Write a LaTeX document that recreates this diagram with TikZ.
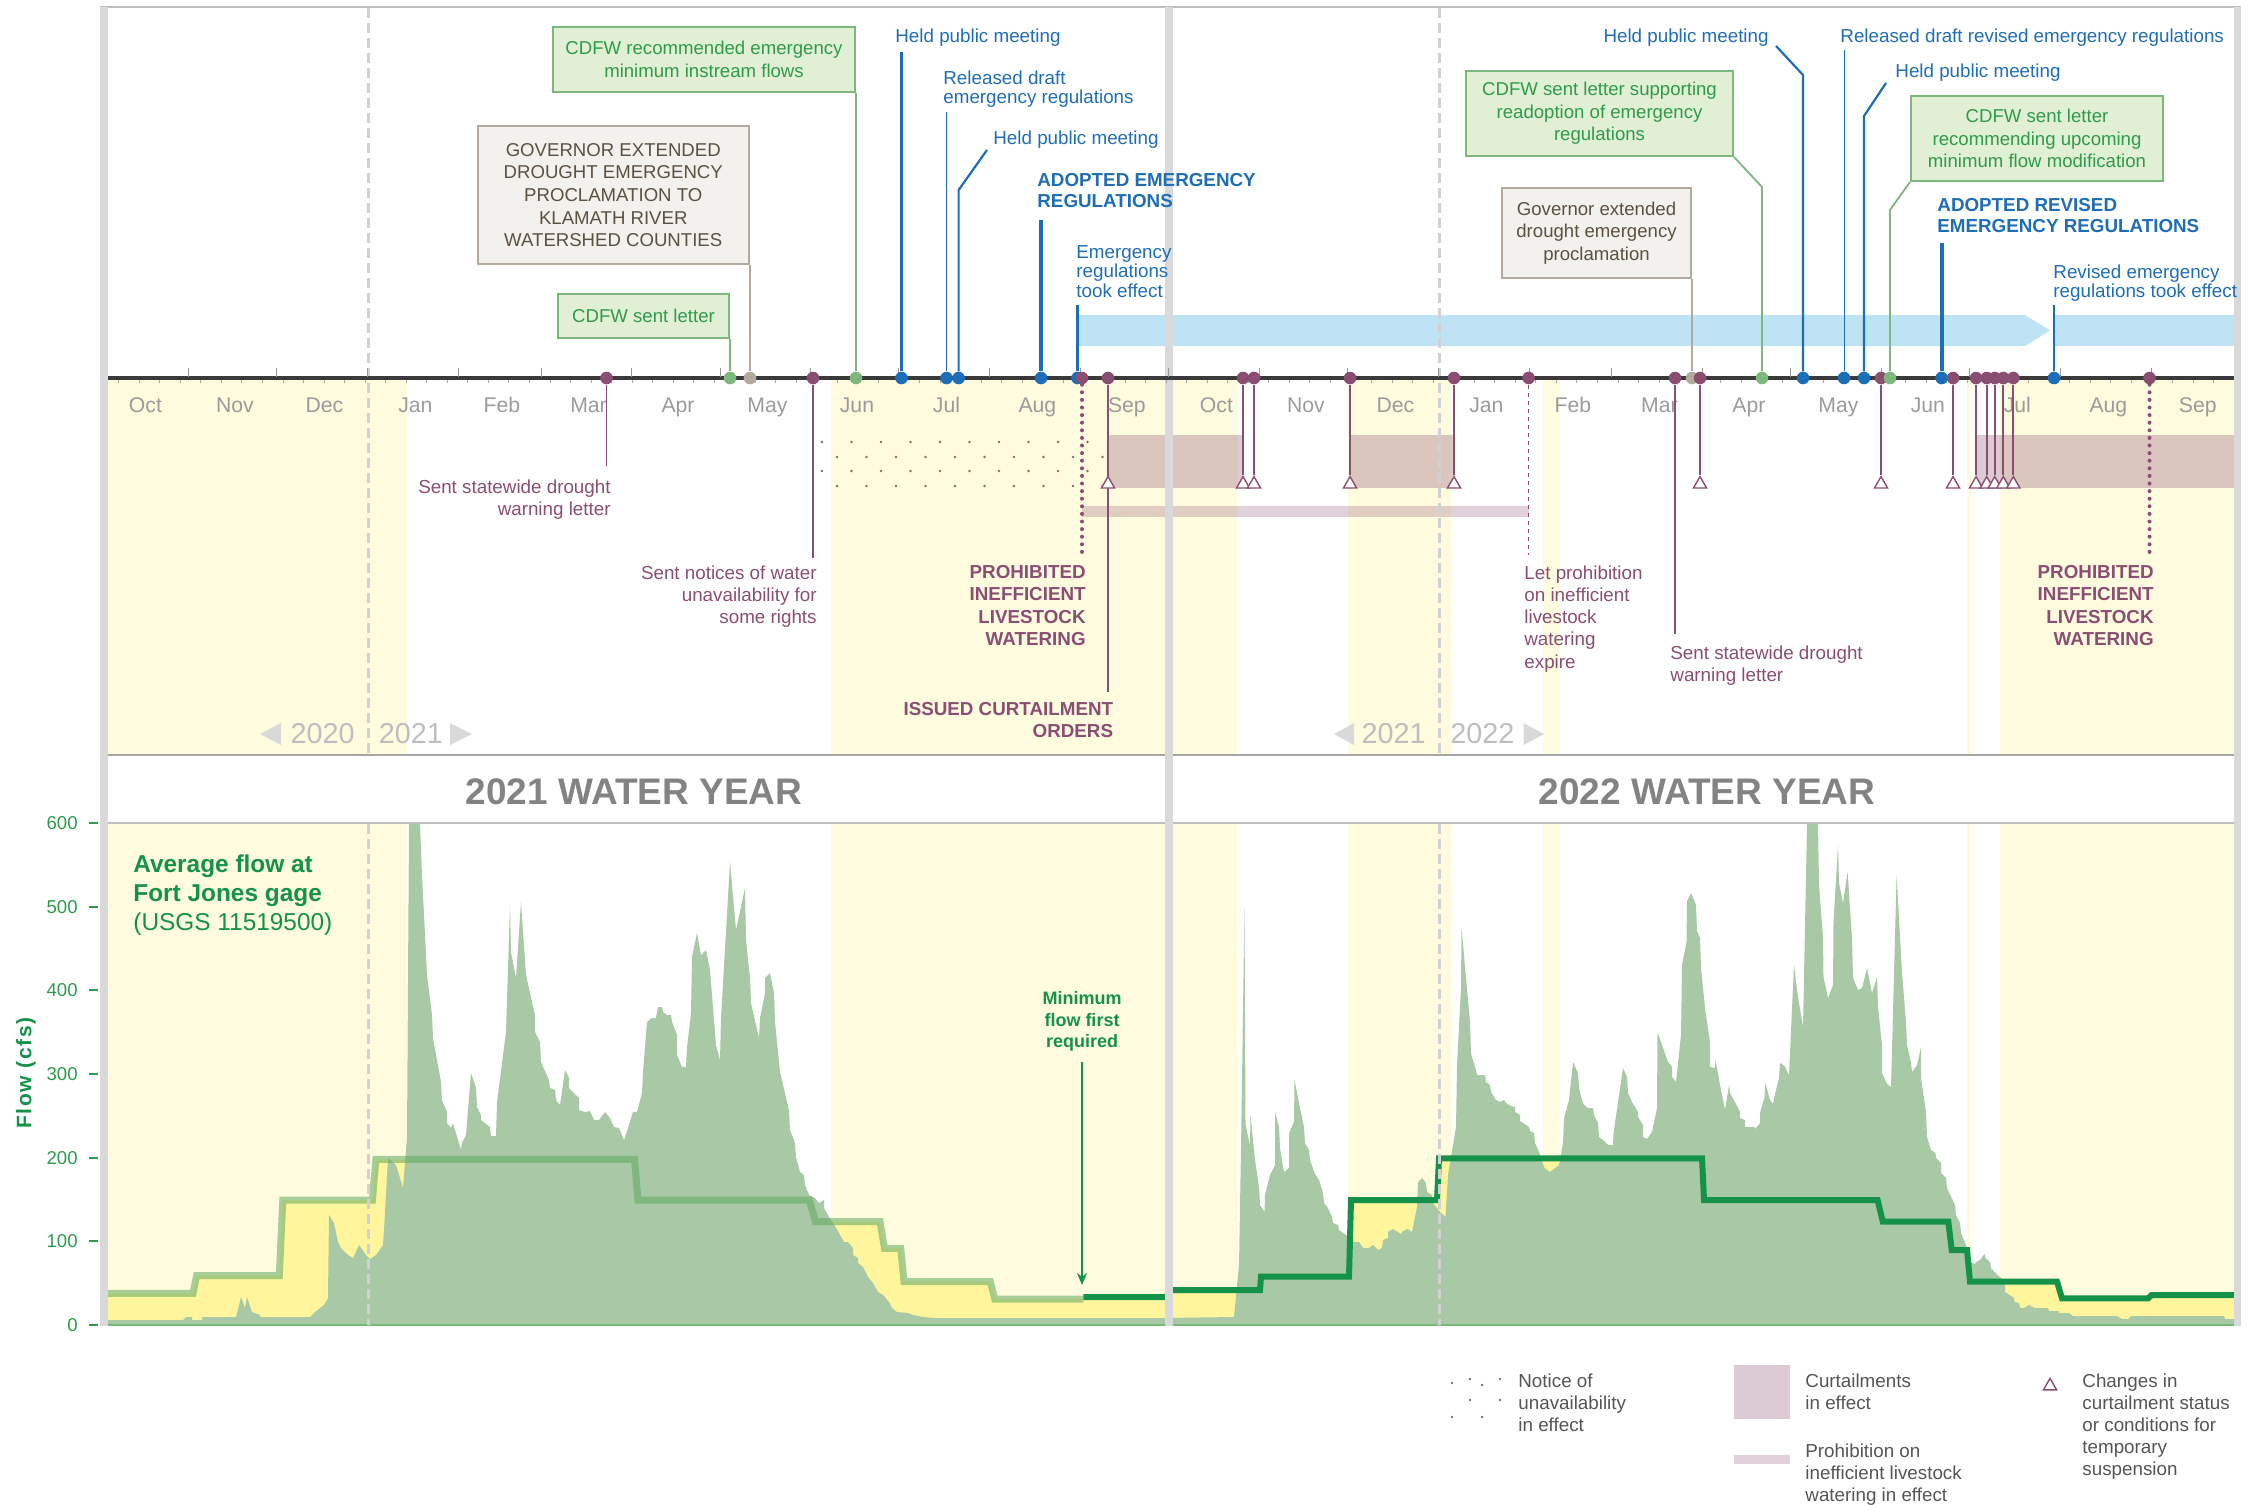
\documentclass[tikz,border=0pt]{standalone}
\usepackage{fontspec}
\setmainfont{Liberation Sans}
\usetikzlibrary{positioning, arrows.meta, calc, shapes.geometric}

\definecolor{bluec}{HTML}{1A6FB8}
\definecolor{bluet}{HTML}{1F6EB5}
\definecolor{purp}{HTML}{8A4E73}
\definecolor{gline}{HTML}{7DB77B}
\definecolor{gfill}{HTML}{E1EFD5}
\definecolor{gtext}{HTML}{2E9B4B}
\definecolor{nline}{HTML}{B3AA9D}
\definecolor{nfill}{HTML}{F3F1EE}
\definecolor{ntext}{HTML}{5B5141}
\definecolor{paleyel}{HTML}{FFFBDF}
\definecolor{brightyel}{HTML}{FFF59D}
\definecolor{flowgr}{HTML}{A9C8A5}
\definecolor{minlight}{HTML}{5FAA5F}
\definecolor{mingreen}{HTML}{14924A}
\definecolor{skyband}{HTML}{BDE3F5}
\definecolor{axisc}{HTML}{3A3A3A}
\definecolor{framec}{HTML}{D9D9D9}
\definecolor{monthc}{HTML}{9B9B9B}
\definecolor{yearc}{HTML}{BEBEBE}
\definecolor{titlec}{HTML}{838383}
\definecolor{legc}{HTML}{555555}
\definecolor{dotc}{HTML}{7A7070}

\newcommand{\lblfnt}{\fontsize{9.4}{9.8}\selectfont}
\newcommand{\purfnt}{\fontsize{9.4}{11.15}\selectfont}
\newcommand{\boxfnt}{\fontsize{9.3}{11.3}\selectfont}

\begin{document}
\begin{tikzpicture}[x=0.5pt, y=-0.5pt, >=Stealth,
    every node/.style={inner sep=0pt},
    bdot/.style={circle, fill=bluec, minimum size=6.3pt},
    pdot/.style={circle, fill=purp, minimum size=6.3pt},
    gdot/.style={circle, fill=gline, minimum size=6.3pt},
    ndot/.style={circle, fill=nline, minimum size=6.3pt},
    bstem/.style={bluec, line width=1.1pt},
    bthin/.style={bluec, line width=0.5pt},
    bbold/.style={bluec, line width=2.1pt},
    pstem/.style={purp, line width=0.9pt},
    pthin/.style={purp, line width=0.55pt},
    pdotted/.style={purp, line width=2pt, line cap=round, dash pattern=on 0pt off 3.8pt},
    pdashed/.style={purp, line width=0.65pt, dash pattern=on 2pt off 2pt},
    gstem/.style={gline, line width=0.9pt},
    nstem/.style={nline, line width=0.9pt},
    chg/.style={regular polygon, regular polygon sides=3, draw=purp, fill=white, line width=0.7pt, minimum size=7.6pt},
    btxt/.style={text=bluet, font=\lblfnt, align=left},
    bbtxt/.style={text=bluet, font=\fontsize{9.4}{10.5}\selectfont\bfseries, align=left},
    ptxt/.style={text=purp, font=\purfnt},
    pbtxt/.style={text=purp, font=\purfnt\bfseries},
    gbox/.style={draw=gline, fill=gfill, line width=1pt, text=gtext, font=\boxfnt, align=center},
    nbox/.style={draw=nline, fill=nfill, line width=1pt, text=ntext, font=\boxfnt, align=center},
    monthlbl/.style={text=monthc, font=\fontsize{10.6}{12}\selectfont},
    yrlbl/.style={text=yearc, font=\fontsize{14.4}{16}\selectfont},
    titlelbl/.style={text=titlec, font=\fontsize{18.5}{20}\selectfont\bfseries},
    ylbl/.style={text=gtext, font=\fontsize{9.3}{10}\selectfont},
    legtxt/.style={text=legc, font=\fontsize{9.4}{11.1}\selectfont, align=left},
    curtail/.style={fill=purp, fill opacity=0.3},
    prohib/.style={fill=purp, fill opacity=0.26},
    noticedot/.style={fill=dotc},
    jan/.style={draw=black!18, line width=1.5pt, dash pattern=on 5pt off 2.5pt},
    mtick/.style={draw=black!40, line width=0.5pt},
    wtick/.style={draw=black!35, line width=0.3pt},
    minold/.style={draw=minlight, draw opacity=0.55, line width=3.5pt},
    minnew/.style={draw=mingreen, line width=3pt},
    minarrow/.style={draw=mingreen, line width=0.75pt, -{Stealth[length=6pt, width=5pt]}, shorten <=5pt}]
\useasboundingbox (0,0) rectangle (2262,1504);

\foreach \a/\b in {108/407, 831/1238, 1348/1451, 1543/1560, 1967/1971, 2000/2234}{
  \fill[paleyel] (\a,380) rectangle (\b,754);
  \fill[paleyel] (\a,824) rectangle (\b,1325);
}
\fill[skyband] (1077.5,315) -- (2025,315) -- (2050,330.5) -- (2025,346) -- (1077.5,346) -- cycle;
\fill[skyband] (2054,315) rectangle (2234,346);
\foreach \y/\o in {442/0, 457/15, 471/0, 486/15}
  \foreach \k in {0,...,9}
    \fill[noticedot] ({822+\o+29.5*\k},\y) circle (0.65pt);
\foreach \a/\b in {1108/1243, 1350/1454, 1976/2234}
  \fill[curtail] (\a,435) rectangle (\b,488);
\fill[prohib] (1082,506) rectangle (1528.6,517);

\fill[brightyel] (108,1325) -- (108,1293.3) -- (193,1293.3) -- (196.6,1275.7) -- (279.3,1275.7) -- (282.8,1200) -- (372.4,1200) -- (375.9,1159.3) -- (634.5,1159.3) -- (638,1200) -- (809.3,1200) -- (815.5,1221.7) -- (880,1221.7) -- (884.5,1248.3) -- (900.7,1248.3) -- (904,1281.7) -- (990.3,1281.7) -- (994.8,1299) -- (1083.4,1299)
  -- (1083.4,1297) -- (1166,1297) -- (1171,1290) -- (1260,1290) -- (1261,1276.7) -- (1349,1276.7) -- (1351,1200) -- (1437,1200) -- (1439,1158.3) -- (1702,1158.3) -- (1704,1200) -- (1877.6,1200) -- (1882.8,1221.7) -- (1948.3,1221.7) -- (1951.7,1250) -- (1967,1250) -- (1970,1281.7) -- (2057,1281.7) -- (2062,1298.3) -- (2148,1298.3) -- (2151.7,1295) -- (2234,1295) -- (2234,1325) -- cycle;

\fill[flowgr] (108,1325) -- (108,1320) -- (183,1320) -- (186,1317) -- (192,1317) -- (192,1320) -- (202,1320) -- (202,1317) -- (236,1317) -- (241,1297) -- (245,1308) -- (247,1297) -- (252,1312) -- (260,1315) -- (260,1317) -- (310,1317) -- (315,1312) -- (324,1305) -- (328,1298) -- (329,1215) -- (334,1223) -- (338,1242) -- (341,1248) -- (348,1255) -- (353,1258) -- (359,1245) -- (366,1255) -- (370,1259) -- (376,1255) -- (383,1245) -- (384,1230) -- (388,1158) -- (396,1165) -- (403,1188) -- (407,1138) -- (409,824) -- (420,824) -- (422,875) -- (427,975) -- (432,1015) -- (433,1038) -- (441,1082) -- (442,1100) -- (447,1112) -- (447,1123) -- (451,1128) -- (453,1123) -- (461,1150) -- (462,1143) -- (466,1135) -- (471,1073) -- (476,1088) -- (477,1107) -- (481,1115) -- (481,1120) -- (490,1127) -- (491,1136) -- (496,1136) -- (497,1102) -- (506,1032) -- (510,905) -- (511,952) -- (516,978) -- (521,902) -- (526,975) -- (535,1015) -- (535,1032) -- (540,1042) -- (541,1062) -- (549,1080) -- (550,1088) -- (555,1090) -- (556,1100) -- (560,1105) -- (565,1070) -- (569,1078) -- (569,1088) -- (579,1098) -- (579,1110) -- (585,1112) -- (590,1111) -- (594,1120) -- (599,1120) -- (605,1112) -- (610,1118) -- (614,1127) -- (619,1128) -- (624,1140) -- (629,1125) -- (633,1112) -- (637,1112)
  -- (642,1093) -- (643,1072) -- (647,1022) -- (652,1018) -- (656,1018) -- (658,1007) -- (662,1007) -- (663,1012) -- (667,1015) -- (671,1015) -- (672,1022) -- (677,1035) -- (677,1055) -- (682,1067) -- (686,1067) -- (687,1048) -- (691,1013) -- (692,957) -- (697,933) -- (701,955) -- (706,950) -- (710,970) -- (716,1045) -- (720,1060) -- (721,1018) -- (730,862) -- (736,930) -- (745,888) -- (746,940) -- (750,978) -- (751,1003) -- (759,1038) -- (760,1018) -- (765,993) -- (765,978) -- (770,973) -- (774,993) -- (775,1022) -- (780,1072) -- (789,1110) -- (790,1130) -- (795,1143) -- (796,1157) -- (800,1172) -- (804,1175) -- (805,1185) -- (809,1195) -- (815,1198) -- (819,1203) -- (824,1200) -- (824,1208) -- (829,1217) -- (833,1223) -- (839,1233) -- (844,1242) -- (848,1242) -- (853,1248) -- (853,1255) -- (858,1258) -- (858,1263) -- (863,1267) -- (868,1277) -- (873,1283) -- (878,1292) -- (883,1295) -- (889,1302) -- (892,1308) -- (897,1312) -- (908,1313) -- (913,1315) -- (923,1317) -- (933,1318) -- (1165,1318)
  -- (1234,1317) -- (1239,1265) -- (1241,1148) -- (1244.5,908) -- (1245.5,1125) -- (1250,1145) -- (1250.5,1115) -- (1255,1160) -- (1259,1187) -- (1260,1205) -- (1264.5,1212) -- (1265,1195) -- (1270,1175) -- (1275,1165) -- (1275,1112) -- (1279,1127) -- (1280,1148) -- (1284,1172) -- (1289,1168) -- (1289,1133) -- (1294,1122) -- (1294.5,1080) -- (1300,1108) -- (1304,1127) -- (1305,1143) -- (1309,1150) -- (1310,1160) -- (1314.5,1173) -- (1319,1180) -- (1323,1193) -- (1324,1203) -- (1328,1208) -- (1332,1217) -- (1333,1223) -- (1338,1225) -- (1339,1230) -- (1346,1235) -- (1353,1242) -- (1359,1242) -- (1363,1248) -- (1369,1248) -- (1373,1245) -- (1378,1250) -- (1382,1248) -- (1383,1240) -- (1388,1238) -- (1388,1232) -- (1393,1229) -- (1401,1234) -- (1403,1231) -- (1408,1229) -- (1412,1232) -- (1417,1207) -- (1418,1182) -- (1422,1178) -- (1426,1183) -- (1427,1192) -- (1432,1195) -- (1432,1202) -- (1441,1213) -- (1445.5,1217) -- (1448,1175) -- (1456,1127) -- (1457,1065) -- (1461,988) -- (1461.5,928) -- (1470,1022) -- (1471,1054) -- (1475.5,1068) -- (1477,1075) -- (1485,1075) -- (1486,1082) -- (1490,1085) -- (1491,1092) -- (1496,1100) -- (1500,1102) -- (1504,1100) -- (1506,1103) -- (1511,1106) -- (1515,1107) -- (1515,1112) -- (1520,1115) -- (1520,1121) -- (1529,1127) -- (1530,1131) -- (1534,1133) -- (1535,1143) -- (1539,1152) -- (1544.5,1168) -- (1550,1172) -- (1559,1165) -- (1563,1143) -- (1564,1118) -- (1569,1100) -- (1573,1062) -- (1578,1073) -- (1579,1088) -- (1583,1104) -- (1588,1108) -- (1593,1108) -- (1594,1115) -- (1598,1123) -- (1599,1137) -- (1603,1140) -- (1608,1145) -- (1613,1145) -- (1613.5,1133) -- (1623,1068) -- (1627,1077) -- (1628,1093) -- (1632,1102) -- (1638,1112) -- (1638,1117) -- (1643,1125) -- (1643,1137) -- (1647,1139) -- (1652,1132) -- (1657,1108) -- (1657.5,1032) -- (1662,1045) -- (1668,1062) -- (1672,1067) -- (1672,1077) -- (1676,1082) -- (1681,1035) -- (1682,965) -- (1686.5,942) -- (1687,901) -- (1691,893) -- (1696,905) -- (1697,931) -- (1700,938)
  -- (1701,968) -- (1705,1008) -- (1710,1042) -- (1710,1067) -- (1715,1068) -- (1715.5,1060) -- (1720,1085) -- (1725,1110) -- (1729,1085) -- (1730,1093) -- (1735.5,1103) -- (1740,1112) -- (1740,1118) -- (1745,1120) -- (1745,1127) -- (1754.5,1127) -- (1755,1129) -- (1760,1123) -- (1760,1113) -- (1764.5,1097) -- (1765,1082) -- (1770,1100) -- (1773,1104) -- (1774,1098) -- (1779,1078) -- (1780,1063) -- (1784.5,1066) -- (1789,1075) -- (1794,965) -- (1798,997) -- (1803,1027) -- (1807,824) -- (1818,824) -- (1819,885) -- (1823,938) -- (1823.5,977) -- (1828,998) -- (1833,985) -- (1833.5,922) -- (1838,845) -- (1839,883) -- (1843,903) -- (1847.6,872) -- (1852,938) -- (1853,978) -- (1858,990) -- (1862,988) -- (1867,968) -- (1872,993) -- (1877,977) -- (1878,1007) -- (1882,1045) -- (1882,1073) -- (1887,1084) -- (1891,1087) -- (1896.6,875) -- (1902,973) -- (1906,1022) -- (1907,1045) -- (1911,1063) -- (1912,1072) -- (1917,1065) -- (1921,1047) -- (1921,1078) -- (1926,1112) -- (1927,1137) -- (1931,1150) -- (1935.5,1153) -- (1936,1158) -- (1941,1163) -- (1941,1173) -- (1946,1178) -- (1947,1188) -- (1955,1205) -- (1956,1215) -- (1960,1223) -- (1961,1233) -- (1966,1245) -- (1971,1262) -- (1975,1264) -- (1976,1262) -- (1980,1260) -- (1984.5,1254) -- (1985.5,1258) -- (1990,1262) -- (1991,1268) -- (1995.5,1273) -- (2000,1277) -- (2005,1282) -- (2005,1292) -- (2014,1298) -- (2014.5,1302) -- (2019,1303) -- (2020,1308) -- (2024,1308) -- (2029,1305) -- (2034.5,1308) -- (2048,1308) -- (2049,1311) -- (2059,1311) -- (2059,1313) -- (2069,1313) -- (2073,1316) -- (2117,1316) -- (2122,1319) -- (2128,1319) -- (2131,1316) -- (2224,1316) -- (2225,1319) -- (2234,1319) -- (2234,1325) -- cycle;

\draw[minold] (108,1293.3) -- (193,1293.3) -- (196.6,1275.7) -- (279.3,1275.7) -- (282.8,1200) -- (372.4,1200) -- (375.9,1159.3) -- (634.5,1159.3) -- (638,1200) -- (809.3,1200) -- (815.5,1221.7) -- (880,1221.7) -- (884.5,1248.3) -- (900.7,1248.3) -- (904,1281.7) -- (990.3,1281.7) -- (994.8,1299) -- (1083.4,1299);
\draw[minnew] (1083.4,1297) -- (1166,1297) -- (1171,1290) -- (1260,1290) -- (1261,1276.7) -- (1349,1276.7) -- (1351,1200) -- (1437,1200) -- (1439,1158.3) -- (1702,1158.3) -- (1704,1200) -- (1877.6,1200) -- (1882.8,1221.7) -- (1948.3,1221.7) -- (1951.7,1250) -- (1967,1250) -- (1970,1281.7) -- (2057,1281.7) -- (2062,1298.3) -- (2148,1298.3) -- (2151.7,1295) -- (2234,1295);
\draw[draw=minlight!85, line width=1pt] (108,1325) -- (2234,1325);

\foreach \x in {368,1439}{
  \draw[jan] (\x,8) -- (\x,754);
  \draw[jan] (\x,824) -- (\x,1325);
}
\draw[black!25, line width=1pt] (100,7) -- (2241,7);
\draw[black!35, line width=1pt] (108,755) -- (2234,755);
\draw[black!25, line width=1pt] (108,823) -- (2234,823);
\foreach \a/\b in {100/107.5, 1165/1172.5, 2234/2241}
  \fill[framec] (\a,7) rectangle (\b,1326);

\foreach \v in {0,100,...,600}{
  \draw[gtext, line width=1pt] (89,{1325-0.8367*\v}) -- (98,{1325-0.8367*\v});
  \node[ylbl, anchor=base east] (y\v) at (78,{1331.5-0.8367*\v}) {\v};
}
\node[rotate=90, text=mingreen, font={\fontsize{10.5}{12}\selectfont\bfseries\addfontfeature{LetterSpace=8}}] (flowax) at (26,1073) {Flow (cfs)};
\node[anchor=north west, align=left, text=mingreen, font=\fontsize{12.2}{14.7}\selectfont] (gage) at (133,854) {\textbf{Average flow at}\\\textbf{Fort Jones gage}\\(USGS 11519500)};
\node[anchor=north, align=center, text=mingreen, font=\fontsize{9}{10.8}\selectfont\bfseries] (minnote) at (1082,991) {Minimum\\flow first\\required};
\coordinate (minpt) at (1082,1285);
\draw[minarrow] (minnote) -- (minpt);

\node[titlelbl] (wy21) at (634,792) {2021 WATER YEAR};
\node[titlelbl] (wy22) at (1707,792) {2022 WATER YEAR};

\draw[axisc, line width=2pt] (108,378) -- (2234,378);
\foreach \w in {1,...,103}
  \draw[wtick] ({98+20.538*\w},380) -- ({98+20.538*\w},383);
\foreach \mn/\md/\ml in {Oct/0/31, Nov/31/30, Dec/61/31, Jan/92/31, Feb/123/28, Mar/151/31, Apr/182/30, May/212/31, Jun/243/30, Jul/273/31, Aug/304/31, Sep/335/30}
  \foreach \yo in {0,365}{
    \node[monthlbl, anchor=base] (m\mn\yo) at ({100+2.934*(\md+\yo+\ml/2)},412.5) {\mn};
    \ifnum\numexpr\md+\yo\relax>0
      \draw[mtick] ({98+2.934*(\md+\yo)},368) -- ({98+2.934*(\md+\yo)},377);
    \fi
  }

\fill[black!15] (260,734) -- (281,723) -- (281,745) -- cycle;
\fill[black!15] (472,734) -- (450,723) -- (450,745) -- cycle;
\fill[black!15] (1334,734) -- (1354,723) -- (1354,745) -- cycle;
\fill[black!15] (1544,734) -- (1523.5,723) -- (1523.5,745) -- cycle;
\node[yrlbl, anchor=base east] (yr20) at (355,743.3) {2020};
\node[yrlbl, anchor=base west] (yr21a) at (378.5,743.3) {2021};
\node[yrlbl, anchor=base east] (yr21b) at (1426,743.3) {2021};
\node[yrlbl, anchor=base west] (yr22) at (1450,743.3) {2022};

\node[gbox, anchor=south east, minimum width=85.5pt, minimum height=22pt] (bx1) at (730,339) {CDFW sent letter};
\node[nbox, anchor=south east, minimum width=135.75pt, minimum height=69pt] (bx2) at (750,265) {GOVERNOR EXTENDED\\DROUGHT EMERGENCY\\PROCLAMATION TO\\KLAMATH RIVER\\WATERSHED COUNTIES};
\node[gbox, anchor=south east, minimum width=151pt, minimum height=32.5pt] (bx3) at (856,93) {CDFW recommended emergency\\minimum instream flows};
\node[nbox, anchor=south east, minimum width=94.5pt, minimum height=45pt] (bx4) at (1692,279) {Governor extended\\drought emergency\\proclamation};
\node[gbox, anchor=south east, minimum width=133.5pt, minimum height=42.5pt] (bx5) at (1734,157) {CDFW sent letter supporting\\readoption of emergency\\regulations};
\node[gbox, anchor=south west, minimum width=126pt, minimum height=42.5pt] (bx6) at (1910,182) {CDFW sent letter\\recommending upcoming\\minimum flow modification};

\node[btxt, anchor=base west] (lb1) at (895,42.7) {Held public meeting};
\node[btxt, anchor=north west] (lb2) at (943,70) {Released draft\\emergency regulations};
\node[btxt, anchor=base west] (lb3) at (993,144.7) {Held public meeting};
\node[bbtxt, anchor=north west] (lb4) at (1037,173) {ADOPTED EMERGENCY\\REGULATIONS};
\node[btxt, anchor=north west] (lb5) at (1076,245) {Emergency\\regulations\\took effect};
\node[btxt, anchor=base east] (lb6) at (1769,42.7) {Held public meeting};
\node[btxt, anchor=base west] (lb7) at (1840,42.7) {Released draft revised emergency regulations};
\node[btxt, anchor=base west] (lb8) at (1895,77.7) {Held public meeting};
\node[bbtxt, anchor=north west] (lb9) at (1937,198) {ADOPTED REVISED\\EMERGENCY REGULATIONS};
\node[btxt, anchor=north west] (lb10) at (2053,264) {Revised emergency\\regulations took effect};

\node[ptxt, align=right, anchor=north east] (lp1) at (611,479) {Sent statewide drought\\warning letter};
\node[ptxt, align=right, anchor=north east] (lp2) at (817,565) {Sent notices of water\\unavailability for\\some rights};
\node[pbtxt, align=right, anchor=north east] (lp3) at (1086,565) {PROHIBITED\\INEFFICIENT\\LIVESTOCK\\WATERING};
\node[pbtxt, align=right, anchor=north east] (lp4) at (1113.5,702) {ISSUED CURTAILMENT\\ORDERS};
\node[ptxt, align=left, anchor=north west] (lp9) at (1524,565) {Let prohibition\\on inefficient\\livestock\\watering\\expire};
\node[ptxt, align=left, anchor=north west] (lp10) at (1670,645) {Sent statewide drought\\warning letter};
\node[pbtxt, align=right, anchor=north east] (lp19) at (2154,565) {PROHIBITED\\INEFFICIENT\\LIVESTOCK\\WATERING};

\node[ndot] (n1) at (750,378) {};
\node[ndot] (n2) at (1692,378) {};
\node[gdot] (g1) at (730,378) {};
\node[gdot] (g2) at (856,378) {};
\node[gdot] (g3) at (1762,378) {};
\draw[nstem] (n1) -- (bx2.south east);
\draw[nstem] (n2) -- (bx4.south east);
\draw[gstem] (g1) -- (bx1.south east);
\draw[gstem] (g2) -- (bx3.south east);
\coordinate (g3k) at (1762,187);
\draw[gstem] (g3) -- (g3k) -- (bx5.south east);

\node[bdot] (b1) at (901.5,378) {};
\node[bdot] (b2) at (946.5,378) {};
\node[bdot] (b3) at (958.6,378) {};
\node[bdot] (b4) at (1041,378) {};
\node[bdot] (b5) at (1077.5,378) {};
\node[bdot] (b6) at (1803,378) {};
\node[bdot] (b7) at (1844,378) {};
\node[bdot] (b8) at (1864,378) {};
\node[bdot] (b9) at (1941.6,378) {};
\node[bdot] (b10) at (2054,378) {};
\coordinate (b1e) at (901.5,52);
\coordinate (b2e) at (946.5,112);
\coordinate (b3k) at (958.6,190);
\coordinate (b3e) at (987,150);
\coordinate (b4e) at (1041,220);
\coordinate (b5e) at (1077.5,305);
\coordinate (b6k) at (1803,75);
\coordinate (b6e) at (1776,46);
\coordinate (b7e) at (1844,50);
\coordinate (b8k) at (1864,116);
\coordinate (b8e) at (1886,83);
\coordinate (b9e) at (1941.6,243);
\coordinate (b10e) at (2054,305);
\draw[bstem] (b1) -- (b1e);
\draw[bthin] (b2) -- (b2e);
\draw[bstem] (b3) -- (b3k) -- (b3e);
\draw[bbold] (b4) -- (b4e);
\draw[bstem] (b5) -- (b5e);
\draw[bstem] (b6) -- (b6k) -- (b6e);
\draw[bthin] (b7) -- (b7e);
\draw[bstem] (b8) -- (b8k) -- (b8e);
\draw[bbold] (b9) -- (b9e);
\draw[bstem] (b10) -- (b10e);

\node[pdot] (p1) at (606.5,378) {};
\node[pdot] (p2) at (813,378) {};
\node[pdot] (p3) at (1082,378) {};
\node[pdot] (p4) at (1108,378) {};
\node[pdot] (p9) at (1528.6,378) {};
\node[pdot] (p10) at (1675,378) {};
\node[pdot] (p19) at (2149.5,378) {};
\coordinate (p1e) at (606.5,466);
\coordinate (p2e) at (813,558);
\coordinate (p3e) at (1082,555);
\coordinate (p4e) at (1108,692);
\coordinate (p9e) at (1528.6,555);
\coordinate (p10e) at (1675,634);
\coordinate (p19e) at (2149.5,555);
\draw[pstem] (p1) -- (p1e);
\draw[pstem] (p2) -- (p2e);
\draw[pdotted] (p3) -- (p3e);
\draw[pstem] (p4) -- (p4e);
\node[chg] (t4) at (1108,484.2) {};
\draw[pdashed] (p9) -- (p9e);
\draw[pthin] (p10) -- (p10e);
\draw[pdotted] (p19) -- (p19e);
\foreach \i/\x in {5/1243, 6/1254, 7/1350, 8/1454, 11/1700, 12/1881, 13/1953, 14/1976, 15/1986.7, 16/1994.7, 17/2003.3, 18/2013.3}{
  \node[pdot] (p\i) at (\x,378) {};
  \node[chg] (t\i) at (\x,484.2) {};
  \draw[pstem] (p\i) -- (t\i);
}
\node[gdot] (g4) at (1890,378) {};
\coordinate (g4k) at (1890,210);
\draw[gstem] (g4) -- (g4k) -- (bx6.south west);

\foreach \x/\y in {1452/1383, 1470/1379, 1482/1385, 1500/1379, 1470/1400, 1500/1400, 1452/1417, 1482/1417}
  \fill[noticedot] (\x,\y) circle (0.65pt);
\node[legtxt, anchor=north west] (legn) at (1518,1373) {Notice of\\unavailability\\in effect};
\node[curtail, anchor=north west, minimum width=28pt, minimum height=27pt] (legc) at (1734,1365) {};
\node[legtxt, anchor=north west] (legct) at (1805,1373) {Curtailments\\in effect};
\node[prohib, anchor=north west, minimum width=28pt, minimum height=4.5pt] (legp) at (1734,1455) {};
\node[legtxt, anchor=north west] (legpt) at (1805,1443) {Prohibition on\\inefficient livestock\\watering in effect};
\node[chg] (legtri) at (2050,1386) {};
\node[legtxt, anchor=north west] (legtt) at (2082,1373) {Changes in\\curtailment status\\or conditions for\\temporary\\suspension};
\end{tikzpicture}
\end{document}
